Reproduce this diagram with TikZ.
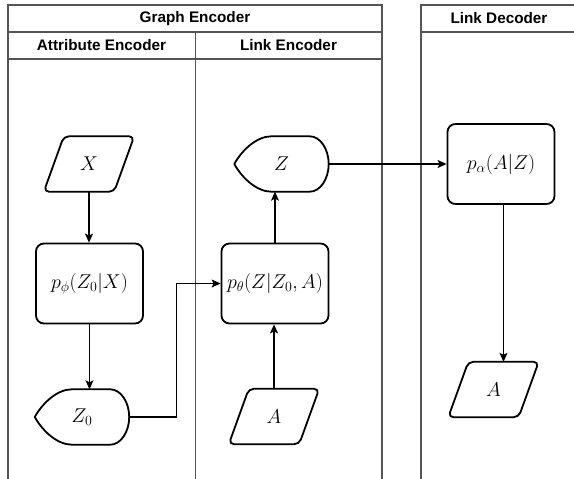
\RequirePackage{fix-cm}
\documentclass[tikz,border=0pt]{standalone}
\usepackage{fontspec}
\newfontfamily\hdrfont{Liberation Sans}
\usetikzlibrary{calc,arrows.meta}
\definecolor{lanegray}{RGB}{85,85,85}
\tikzset{
 laneline/.style={draw=lanegray, line width=1.3pt},
 hdr/.style={font=\hdrfont\bfseries\fontsize{15.3}{18}\selectfont, inner sep=0pt},
 mathlbl/.style={font=\fontsize{20}{24}\selectfont},
 procbox/.style={mathlbl, draw, line width=1.8pt, rounded corners=8pt, minimum width=107pt, minimum height=80pt, inner sep=0pt},
 iobox/.style={mathlbl, minimum width=90pt, minimum height=55pt, inner sep=0pt},
 dispbox/.style={mathlbl, minimum width=94pt, minimum height=55pt, inner sep=0pt},
 shapeline/.style={draw, line width=1.8pt, line join=round},
 conn/.style={draw, line width=1.1pt, -{Stealth[length=9pt,width=8pt,inset=2pt]}},
}
\newcommand\ioshape[1]{\draw[shapeline, rounded corners=5pt] ($(#1.north west)+(20pt,0pt)$) -- (#1.north east) -- ($(#1.south east)+(-20pt,0pt)$) -- (#1.south west) -- cycle;}
\newcommand\dispshape[1]{\draw[shapeline]
  (#1.west) .. controls ($(#1.west)+(7pt,13pt)$) and ($(#1.north west)+(22pt,0pt)$) .. ($(#1.north west)+(37pt,0pt)$)
  -- ($(#1.north east)+(-19pt,0pt)$)
  .. controls ($(#1.north east)+(-8.5pt,0pt)$) and ($(#1.east)+(0pt,15pt)$) .. (#1.east)
  .. controls ($(#1.east)+(0pt,-15pt)$) and ($(#1.south east)+(-8.5pt,0pt)$) .. ($(#1.south east)+(-19pt,0pt)$)
  -- ($(#1.south west)+(37pt,0pt)$)
  .. controls ($(#1.south west)+(22pt,0pt)$) and ($(#1.west)+(7pt,-13pt)$) .. (#1.west) -- cycle;}
\begin{document}
\begin{tikzpicture}[x=1pt,y=-1pt]
\useasboundingbox (0,0) rectangle (574,479);
% lanes
\draw[laneline] (8,479) -- (8,5) -- (382,5) -- (382,479);
\draw[laneline] (8,32) -- (382,32);
\draw[laneline] (8,59) -- (382,59);
\draw[laneline] (195.5,32) -- (195.5,479);
\draw[laneline] (421,479) -- (421,5) -- (574,5);
\draw[laneline] (421,32) -- (574,32);
% headers
\node[hdr] (hge) at (195,18.5) {Graph Encoder};
\node[hdr] (hae) at (101.5,45.5) {Attribute Encoder};
\node[hdr] (hle) at (288.5,45.5) {Link Encoder};
\node[hdr] (hld) at (499,18.5) {Link Decoder};
% shapes
\node[iobox] (x) at (89,164) {$X$}; \ioshape{x}
\node[procbox] (pphi) at (89.5,283.5) {$p_\phi(Z_0|X)$};
\node[dispbox] (z0) at (82,417) {$Z_0$}; \dispshape{z0}
\node[procbox] (pth) at (275,283.5) {$p_\theta(Z|Z_0,A)$};
\node[iobox] (al) at (274,416.5) {$A$}; \ioshape{al}
\node[dispbox] (z) at (281.5,164) {$Z$}; \dispshape{z}
\node[procbox] (pal) at (501,164) {$p_\alpha(A|Z)$};
\node[iobox] (ad) at (493.5,389.5) {$A$}; \ioshape{ad}
% connectors
\draw[conn] (x.south) -- (x.south |- pphi.north);
\draw[conn] (pphi.south) -- (pphi.south |- z0.north);
\draw[conn] (z0.east) -- ($(z0.east)+(47pt,0pt)$) |- (pth.west);
\draw[conn] (al.north) -- (al.north |- pth.south);
\draw[conn] (pth.north) -- (pth.north |- z.south);
\draw[conn] (z.east) -- (z.east -| pal.west);
\coordinate (palout) at ($(pal.south)+(2.5pt,0pt)$);
\draw[conn] (palout) -- (palout |- ad.north);
\end{tikzpicture}
\end{document}
